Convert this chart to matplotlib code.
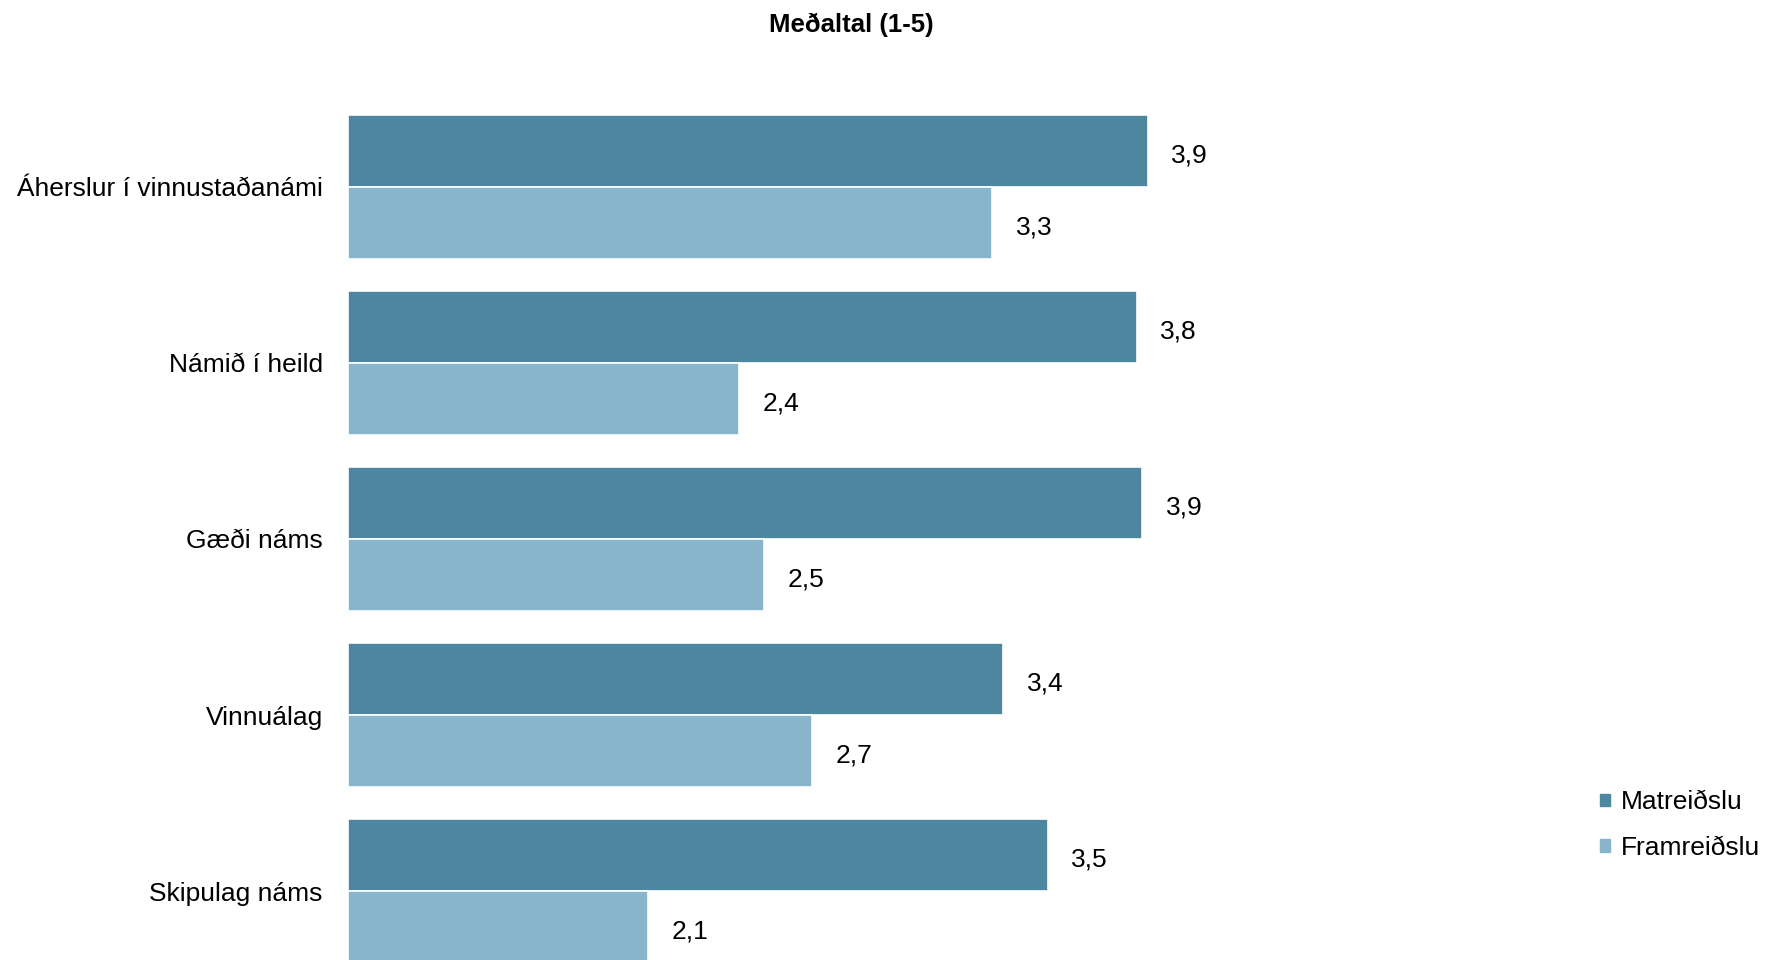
import matplotlib.pyplot as plt
from matplotlib.patches import Patch
import numpy as np

plt.rcParams['font.family'] = ['Liberation Sans', 'DejaVu Sans']

categories = ["Áherslur í vinnustaðanámi", "Námið í heild", "Gæði náms",
              "Vinnuálag", "Skipulag náms"]
matreidslu = [3.88, 3.84, 3.86, 3.36, 3.52]
framreidslu = [3.32, 2.41, 2.50, 2.67, 2.08]
series_names = ["Matreiðslu", "Framreiðslu"]

dark = "#4E86A0"
light = "#88B5CC"

fig = plt.figure(figsize=(17.69, 9.6), dpi=100)
# plot area runs past the bottom edge, like the cropped original
ax = fig.add_axes([347.7 / 1769, (960 - 979) / 960, (1459 - 347.7) / 1769, 880 / 960])

y = np.arange(len(categories))
h = 0.41
b1 = ax.barh(y - h / 2, np.array(matreidslu) - 1, left=1, height=h,
             color=dark, edgecolor="white", linewidth=1.2)
b2 = ax.barh(y + h / 2, np.array(framreidslu) - 1, left=1, height=h,
             color=light, edgecolor="white", linewidth=1.2)

for bars, vals in [(b1, matreidslu), (b2, framreidslu)]:
    for bar, v in zip(bars, vals):
        ax.text(bar.get_x() + bar.get_width() + 0.085,
                bar.get_y() + bar.get_height() / 2 + 0.027,
                f"{v:.1f}".replace(".", ","), va="center", ha="left", fontsize=19)

ax.set_xlim(1, 5)
ax.set_ylim(len(categories) - 0.5, -0.5)
ax.set_yticks(y)
ax.set_yticklabels(categories, fontsize=19)
ax.set_xticks([])
ax.tick_params(axis="y", length=0, pad=18)
for s in ax.spines.values():
    s.set_visible(False)

fig.text(851 / 1769, 1 - 25 / 960, "Meðaltal (1-5)", ha="center", va="center",
         fontsize=18.5, fontweight="bold")

handles = [Patch(color=dark), Patch(color=light)]
fig.legend(handles, series_names, loc="center left",
           bbox_to_anchor=(1600 / 1769, (960 - 825) / 960), frameon=False,
           fontsize=19, handlelength=0.38, handleheight=0.38,
           handletextpad=0.4, labelspacing=0.8, borderpad=0, borderaxespad=0)

fig.savefig("out.png", dpi=100)
